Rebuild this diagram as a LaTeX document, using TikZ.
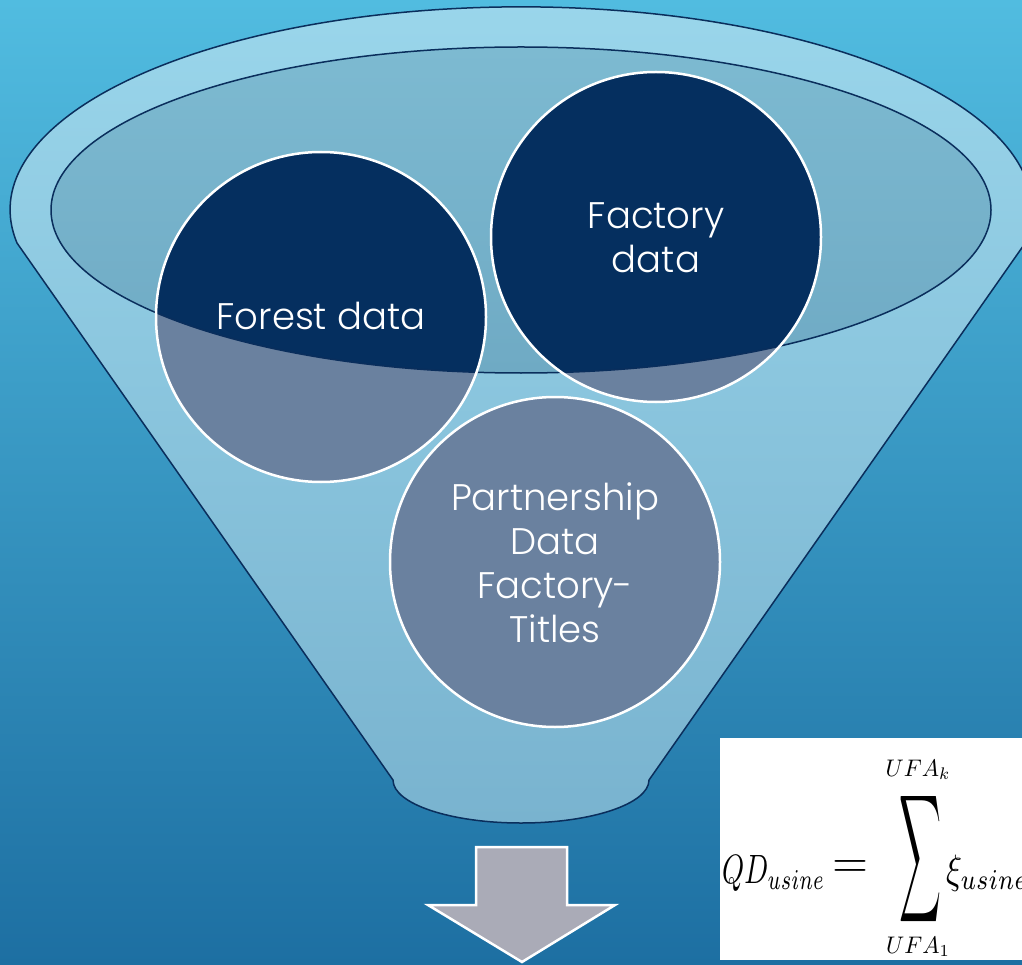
\documentclass[tikz,border=0pt]{standalone}
\usepackage{fontspec}
\setmainfont{Poppins}[UprightFont=* Light]
\usepackage{graphicx}
\definecolor{bgtop}{HTML}{51BCE0}
\definecolor{bgbot}{HTML}{1D6FA2}
\definecolor{ftop}{HTML}{9AD6EB}
\definecolor{fbot}{HTML}{79B3CF}
\definecolor{itop}{HTML}{7DBAD1}
\definecolor{ibot}{HTML}{6FAAC4}
\definecolor{fnavy}{HTML}{0A2E5C}
\definecolor{cnavy}{HTML}{052F5F}
\definecolor{clight}{HTML}{6A819F}
\definecolor{agray}{HTML}{AAABB7}
\begin{document}
\begin{tikzpicture}[x=1pt,y=-1pt,
  funnelline/.style={draw=fnavy, line width=1.5pt},
  circfill/.style={circle, minimum size=330pt, inner sep=0pt, fill=clight},
  circborder/.style={draw=white, line width=2.5pt},
  clabel/.style={text=white, font=\fontsize{37}{44}\selectfont, align=center},
  arrowshape/.style={fill=agray, draw=white, line width=2.5pt, line join=miter},
  mathnode/.style={inner sep=0pt, text=black}
]
\useasboundingbox (0,0) rectangle (1022,965);
\shade[top color=bgtop, bottom color=bgbot] (0,0) rectangle (1022,965);

% funnel body
\path[funnelline, top color=ftop, bottom color=fbot]
  (17,243) arc[start angle=170.6, end angle=369.4, x radius=511, y radius=203]
  -- (649,780) arc[start angle=0, end angle=180, x radius=128, y radius=43]
  -- cycle;

% inner opening
\shade[top color=itop, bottom color=ibot] (521,210) ellipse[x radius=470, y radius=163];

% circles
\node[circfill] (forest) at (321,317) {};
\node[circfill] (factory) at (656,237) {};
\node[circfill] (partner) at (555,562) {};
\begin{scope}
  \clip (521,210) ellipse[x radius=470, y radius=163];
  \fill[cnavy] (forest.center) circle[radius=165];
  \fill[cnavy] (factory.center) circle[radius=165];
\end{scope}
\draw[funnelline] (521,210) ellipse[x radius=470, y radius=163];
\draw[circborder] (forest.center) circle[radius=165];
\draw[circborder] (factory.center) circle[radius=165];
\draw[circborder] (partner.center) circle[radius=165];

\node[clabel] (forestlabel) at (321,316) {Forest data};
\node[clabel] (factorylabel) at (656,238) {Factory\\data};
\node[clabel] (partnerlabel) at (555,563) {Partnership\\Data\\Factory-\\Titles};

% down arrow
\draw[arrowshape] (476,847) -- (567,847) -- (567,905) -- (615,905) -- (522,962)
  -- (428,905) -- (476,905) -- cycle;

% formula box
\fill[white] (720,738) rectangle (1030,960);
\begin{scope}
  \clip (720,738) rectangle (1022,960);
  \node[mathnode, anchor=base west] (qd) at (722,883) {\resizebox{103pt}{28pt}{$QD_{usine}$}};
  \node[mathnode] (eq) at (850,869) {\resizebox{36pt}{!}{$=$}};
  \node[mathnode] (sum) at (920,859) {\resizebox*{42pt}{143pt}{$\displaystyle\sum$}};
  \node[mathnode, anchor=base] (top) at (918,776) {\scalebox{2.3}[2.4]{$UFA_k$}};
  \node[mathnode, anchor=base] (bot) at (918,953) {\scalebox{2.3}[2.4]{$UFA_1$}};
  \node[mathnode, anchor=base west] (xi) at (946,883) {\scalebox{3.3}[4.1]{$\xi_{usine}$}};
\end{scope}
\end{tikzpicture}
\end{document}
